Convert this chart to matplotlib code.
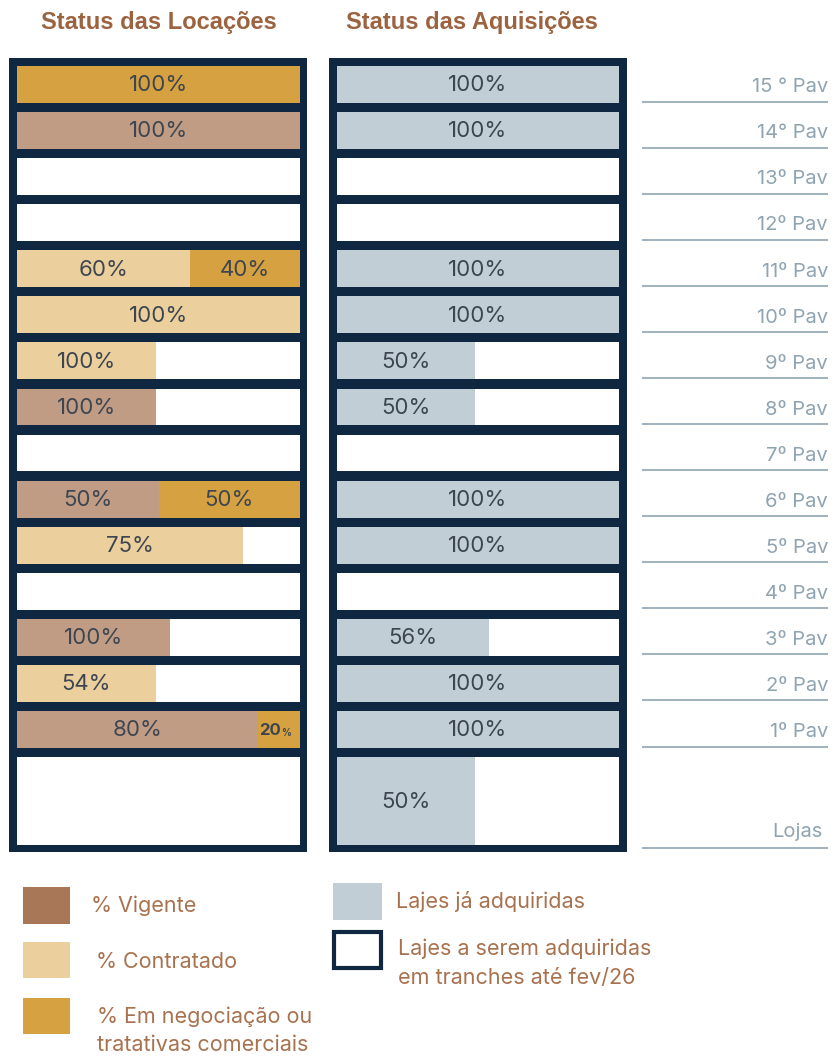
import numpy as np
import matplotlib
matplotlib.use('Agg')
from matplotlib import pyplot as plt
from matplotlib.patches import Rectangle

plt.rcParams['font.family'] = ['Inter', 'DejaVu Sans']

# floors, top to bottom
floors = ['15 ° Pav', '14° Pav', '13º Pav', '12º Pav', '11º Pav', '10º Pav', '9º Pav', '8º Pav',
          '7º Pav', '6º Pav', '5º Pav', '4º Pav', '3º Pav', '2º Pav', '1º Pav', 'Lojas']

# Status das Locações: share of the slab width drawn per status
vigente_w = [0, 1.0, 0, 0, 0, 0, 0, 0.49, 0, 0.50, 0, 0, 0.54, 0, 0.85, 0]
contratado_w = [0, 0, 0, 0, 0.61, 1.0, 0.49, 0, 0, 0, 0.80, 0, 0, 0.49, 0, 0]
negociacao_w = [1.0, 0, 0, 0, 0.39, 0, 0, 0, 0, 0.50, 0, 0, 0, 0, 0.15, 0]
vigente_lbl = ['', '100%', '', '', '', '', '', '100%', '', '50%', '', '', '100%', '', '80%', '']
contratado_lbl = ['', '', '', '', '60%', '100%', '100%', '', '', '', '75%', '', '', '54%', '', '']
negociacao_lbl = ['100%', '', '', '', '40%', '', '', '', '', '50%', '', '', '', '', '20%', '']

# Status das Aquisições
adquirido_w = [1.0, 1.0, 0, 0, 1.0, 1.0, 0.49, 0.49, 0, 1.0, 1.0, 0, 0.54, 1.0, 1.0, 0.49]
adquirido_lbl = ['100%', '100%', '', '', '100%', '100%', '50%', '50%', '', '100%', '100%', '',
                 '56%', '100%', '100%', '50%']

NAVY = '#0f2741'
C_VIG = '#c19c85'
C_VIG_LEG = '#a77757'
C_CON = '#ebd09d'
C_NEG = '#d6a140'
C_ADQ = '#c1ced6'
TXT = '#3d4650'
BROWN = '#9b6340'
LEG_TXT = '#a8724f'
PAV = '#8fa4b2'

W, H = 833, 1056
fig = plt.figure(figsize=(W / 100, H / 100), dpi=100)


def px_axes(x0, y0, x1, y1):
    return fig.add_axes([x0 / W, 1 - y1 / H, (x1 - x0) / W, (y1 - y0) / H])


n = len(floors)
y_pos = np.r_[np.arange(n - 1), 15.55]
heights = np.r_[np.full(n - 1, 0.80), 1.91]
ylim = (16.66, -0.575)


def value_label(ax, x, y, s):
    if s == '20%':
        t = ax.text(x, y, '20', ha='right', va='center', fontsize=12, color=TXT, fontweight='bold')
        ax.annotate('%', xy=(1, 0.3), xycoords=t, ha='left', va='center', fontsize=7,
                    color=TXT, fontweight='bold')
    elif s:
        ax.text(x, y, s, ha='center', va='center', fontsize=16, color=TXT)


def building(ax):
    ax.set_facecolor(NAVY)
    ax.barh(y_pos, np.ones(n), height=heights, left=0, color='white', linewidth=0)
    ax.set_ylim(*ylim)
    ax.set_xticks([])
    ax.set_yticks([])
    for s in ax.spines.values():
        s.set_visible(False)


# left building
ax1 = px_axes(9, 58, 307, 852)
building(ax1)
ax1.set_xlim(-8 / 283, 290 / 283)
left = np.zeros(n)
for w, lbl, c in [(vigente_w, vigente_lbl, C_VIG), (contratado_w, contratado_lbl, C_CON),
                  (negociacao_w, negociacao_lbl, C_NEG)]:
    w = np.array(w)
    ax1.barh(y_pos, w, height=heights, left=left, color=c, linewidth=0)
    for i in range(n):
        if w[i] > 0:
            xc = left[i] + w[i] / 2
            if lbl[i] == '20%':
                xc = left[i] + w[i] * 0.55
            value_label(ax1, xc, y_pos[i] + 0.02, lbl[i])
    left = left + w

# right building
ax2 = px_axes(329, 58, 627, 852)
building(ax2)
ax2.set_xlim(-8 / 282, 290 / 282)
ax2.barh(y_pos, adquirido_w, height=heights, left=0, color=C_ADQ, linewidth=0)
for i in range(n):
    if adquirido_w[i] > 0:
        value_label(ax2, adquirido_w[i] / 2, y_pos[i] + 0.02, adquirido_lbl[i])

# floor labels
ax3 = px_axes(642, 58, 828, 852)
ax3.set_xlim(0, 1)
ax3.set_ylim(*ylim)
ax3.axis('off')
line_y = np.r_[y_pos[:-1] + 0.37, 16.57]
text_y = np.r_[y_pos[:-1] + 0.06, 16.22]
ax3.hlines(line_y, 0, 1, color=PAV, linewidth=1.2)
for i, (ty, f) in enumerate(zip(text_y, floors)):
    tx = 0.97 if f == 'Lojas' else 1
    ax3.text(tx, ty, f, ha='right', va='center', fontsize=14.5, color=PAV)

# titles
fig.text(159 / W, 1 - 22 / H, 'Status das Locações', ha='center', va='center',
         fontsize=17, fontweight='bold', color=BROWN, family=['Liberation Sans', 'DejaVu Sans'])
fig.text(472 / W, 1 - 22 / H, 'Status das Aquisições', ha='center', va='center',
         fontsize=17, fontweight='bold', color=BROWN, family=['Liberation Sans', 'DejaVu Sans'])


# legend
def leg_box(x0, y0, x1, y1, fc, ec='none', lw=0):
    fig.add_artist(Rectangle((x0 / W, 1 - y1 / H), (x1 - x0) / W, (y1 - y0) / H,
                             transform=fig.transFigure, facecolor=fc, edgecolor=ec, linewidth=lw))


def leg_text(x, y, s):
    fig.text(x / W, 1 - y / H, s, ha='left', va='center', fontsize=15.5, color=LEG_TXT)


leg_box(23, 887, 70, 924, C_VIG_LEG)
leg_box(23, 942, 70, 978, C_CON)
leg_box(23, 998, 70, 1034, C_NEG)
leg_text(91, 906, '% Vigente')
leg_text(96, 962, '% Contratado')
leg_text(97, 1017, '% Em negociação ou')
leg_text(97, 1045, 'tratativas comerciais')

leg_box(333, 883, 382, 920, C_ADQ)
leg_box(334, 932, 381, 968, 'white', NAVY, 3)
leg_text(396, 902, 'Lajes já adquiridas')
leg_text(398, 949, 'Lajes a serem adquiridas')
leg_text(398, 978, 'em tranches até fev/26')

fig.savefig('out.png', dpi=100)
